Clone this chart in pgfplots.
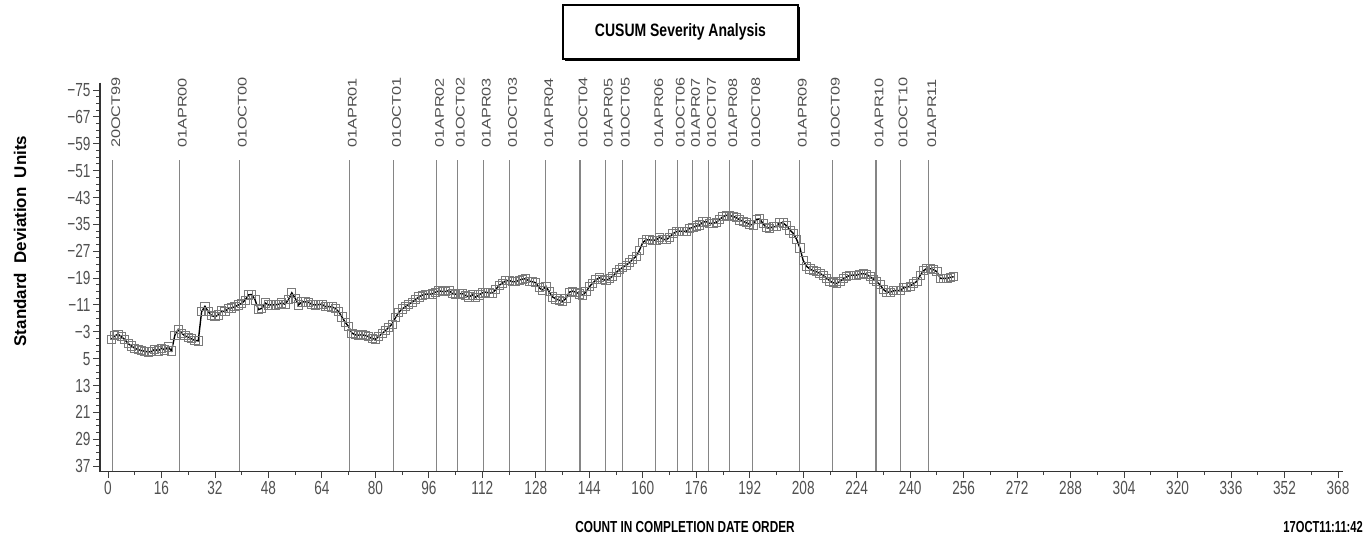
\documentclass[border=0pt]{standalone}
\usepackage{fontspec}
\setmainfont{Liberation Sans}
\usepackage{pgfplots}
\pgfplotsset{compat=1.18}
\usepackage{pgfplotstable}

\definecolor{ticktext}{HTML}{505050}
\definecolor{refgray}{HTML}{858585}
\definecolor{markgray}{HTML}{7A7A7A}

% cumulative sum, in standard deviation units, by completion order
\pgfplotstableread{
n v
1 -0.8
2 -1.8
3 -2.3
4 -1.5
5 -0.7
6 0.5
7 1.2
8 1.9
9 2.3
10 2.6
11 2.8
12 3.0
13 2.9
14 2.2
15 2.7
16 1.9
17 2.4
18 1.5
19 2.7
20 -2.0
21 -3.7
22 -2.6
23 -1.8
24 -1.4
25 -0.9
26 -0.4
27 -0.3
28 -9.0
29 -10.6
30 -9.0
31 -7.8
32 -7.5
33 -8.0
34 -9.2
35 -9.0
36 -10.0
37 -10.1
38 -10.5
39 -11.0
40 -11.5
41 -12.4
42 -14.0
43 -14.1
44 -12.5
45 -9.6
46 -10.0
47 -11.6
48 -11.0
49 -11.0
50 -11.0
51 -11.2
52 -11.6
53 -11.2
54 -12.6
55 -14.6
56 -13.0
57 -11.0
58 -11.9
59 -11.9
60 -11.8
61 -11.1
62 -11.0
63 -11.1
64 -11.2
65 -10.5
66 -10.5
67 -10.4
68 -10.0
69 -9.0
70 -7.4
71 -5.8
72 -4.5
73 -2.6
74 -2.1
75 -2.0
76 -2.1
77 -1.9
78 -1.5
79 -1.0
80 -0.8
81 -1.6
82 -2.5
83 -3.3
84 -4.3
85 -5.3
86 -7.2
87 -8.8
88 -9.8
89 -10.5
90 -11.2
91 -11.8
92 -12.6
93 -13.4
94 -13.9
95 -14.2
96 -14.2
97 -14.3
98 -14.8
99 -15.2
100 -15.0
101 -15.0
102 -15.3
103 -14.4
104 -14.2
105 -14.3
106 -14.4
107 -13.8
108 -13.4
109 -14.0
110 -13.3
111 -14.0
112 -14.6
113 -14.8
114 -14.6
115 -14.5
116 -15.6
117 -16.8
118 -17.5
119 -18.2
120 -18.3
121 -17.9
122 -17.9
123 -18.4
124 -18.7
125 -18.8
126 -18.1
127 -17.9
128 -17.6
129 -16.1
130 -15.4
131 -16.6
132 -14.9
133 -13.4
134 -12.8
135 -12.4
136 -12.1
137 -12.9
138 -14.8
139 -15.1
140 -14.8
141 -14.3
142 -13.9
143 -14.9
144 -16.4
145 -17.5
146 -18.5
147 -19.1
148 -18.6
149 -18.3
150 -18.8
151 -19.6
152 -20.6
153 -21.5
154 -22.2
155 -22.8
156 -23.6
157 -24.6
158 -25.5
159 -27.3
160 -29.6
161 -30.4
162 -30.4
163 -30.3
164 -30.3
165 -31.2
166 -30.6
167 -30.4
168 -31.2
169 -32.2
170 -32.8
171 -33.0
172 -32.9
173 -32.9
174 -33.8
175 -34.1
176 -34.5
177 -34.8
178 -35.7
179 -35.8
180 -35.3
181 -35.3
182 -35.6
183 -36.5
184 -37.3
185 -37.7
186 -37.6
187 -37.4
188 -37.0
189 -36.3
190 -35.9
191 -35.5
192 -35.0
193 -34.8
194 -36.5
195 -36.6
196 -35.2
197 -34.0
198 -33.9
199 -34.3
200 -34.3
201 -35.5
202 -35.4
203 -34.6
204 -33.3
205 -32.3
206 -30.6
207 -28.0
208 -24.2
209 -22.5
210 -21.7
211 -21.2
212 -20.9
213 -20.4
214 -19.8
215 -19.0
216 -18.1
217 -17.6
218 -17.4
219 -18.0
220 -18.8
221 -19.4
222 -19.8
223 -19.9
224 -19.9
225 -20.2
226 -20.3
227 -20.1
228 -19.4
229 -18.7
230 -17.9
231 -17.0
232 -15.6
233 -14.8
234 -14.8
235 -15.2
236 -15.3
237 -15.2
238 -16.1
239 -16.3
240 -16.6
241 -17.4
242 -18.0
243 -19.8
244 -21.2
245 -21.9
246 -21.8
247 -21.5
248 -20.9
249 -18.9
250 -18.9
251 -18.9
252 -19.2
253 -19.4
}\cusum

\tikzset{
  refline/.style={draw=refgray, line width=1.2bp},
  datelabel/.style={xshift=3bp, rotate=90, xscale=1.3, anchor=west, inner sep=0pt,
    text=ticktext, font=\fontsize{12.6}{12.6}\selectfont},
}

\begin{document}
\begin{tikzpicture}
\useasboundingbox (0bp,0bp) rectangle (1367bp,-537bp);

% title box with a drop shadow on the lower and right edges
\draw[line width=1.3bp] (563bp,-5bp) rectangle (798bp,-59bp);
\draw[line width=1.6bp] (565bp,-60bp) -- (799.3bp,-60bp) -- (799.3bp,-7bp);
\node[font=\bfseries\fontsize{18}{18}\selectfont, xscale=0.78] at (680.5bp,-32bp) {CUSUM Severity Analysis};

\begin{axis}[
  name=ax,
  scale only axis,
  width=1243bp, height=388.4bp,
  at={(100bp,-471.1bp)}, anchor=south west,
  xmin=-2.4, xmax=369.5,
  ymin=-77.2, ymax=38.5,
  y dir=reverse,
  axis line style={draw=none},
  clip=false,
  xtick={0,16,...,368},
  ytick={-75,-67,...,37},
  yticklabels={−75,−67,−59,−51,−43,−35,−27,−19,−11,−3,5,13,21,29,37},
  minor x tick num=1,
  minor y tick num=3,
  tick align=outside,
  xtick pos=bottom, ytick pos=left,
  major tick length=7bp, minor tick length=4bp,
  every tick/.style={black!75, line width=0.9bp},
  /pgf/number format/assume math mode=true,
  xticklabel style={font=\fontsize{19}{19}\selectfont, text=ticktext, xscale=0.72},
  yticklabel style={font=\fontsize{19}{19}\selectfont, text=ticktext, xscale=0.72},
]

\addplot[only marks, mark=square, mark size=4.1bp,
  mark options={draw=markgray, line width=0.9bp}] table[x=n, y=v] {\cusum};
\addplot[black, line width=1.4bp, mark=none] table[x=n, y=v] {\cusum};

% reference lines at the reporting dates
\addplot[refline] coordinates {(1.4,-54.1) (1.4,38.5)};
\addplot[refline] coordinates {(21.3,-54.1) (21.3,38.5)};
\addplot[refline] coordinates {(39.3,-54.1) (39.3,38.5)};
\addplot[refline] coordinates {(72.2,-54.1) (72.2,38.5)};
\addplot[refline] coordinates {(85.4,-54.1) (85.4,38.5)};
\addplot[refline] coordinates {(98.3,-54.1) (98.3,38.5)};
\addplot[refline] coordinates {(104.5,-54.1) (104.5,38.5)};
\addplot[refline] coordinates {(112.3,-54.1) (112.3,38.5)};
\addplot[refline] coordinates {(120.1,-54.1) (120.1,38.5)};
\addplot[refline] coordinates {(131.0,-54.1) (131.0,38.5)};
\addplot[refline] coordinates {(141.2,-54.1) (141.2,38.5)};
\addplot[refline] coordinates {(148.8,-54.1) (148.8,38.5)};
\addplot[refline] coordinates {(153.9,-54.1) (153.9,38.5)};
\addplot[refline] coordinates {(163.9,-54.1) (163.9,38.5)};
\addplot[refline] coordinates {(170.3,-54.1) (170.3,38.5)};
\addplot[refline] coordinates {(174.9,-54.1) (174.9,38.5)};
\addplot[refline] coordinates {(179.7,-54.1) (179.7,38.5)};
\addplot[refline] coordinates {(186.0,-54.1) (186.0,38.5)};
\addplot[refline] coordinates {(192.9,-54.1) (192.9,38.5)};
\addplot[refline] coordinates {(206.8,-54.1) (206.8,38.5)};
\addplot[refline] coordinates {(216.7,-54.1) (216.7,38.5)};
\addplot[refline] coordinates {(229.8,-54.1) (229.8,38.5)};
\addplot[refline] coordinates {(237.0,-54.1) (237.0,38.5)};
\addplot[refline] coordinates {(245.6,-54.1) (245.6,38.5)};

\node[datelabel] at (axis cs:1.4,-57.7) {20OCT99};
\node[datelabel] at (axis cs:21.3,-57.7) {01APR00};
\node[datelabel] at (axis cs:39.3,-57.7) {01OCT00};
\node[datelabel] at (axis cs:72.2,-57.7) {01APR01};
\node[datelabel] at (axis cs:85.4,-57.7) {01OCT01};
\node[datelabel] at (axis cs:98.3,-57.7) {01APR02};
\node[datelabel] at (axis cs:104.5,-57.7) {01OCT02};
\node[datelabel] at (axis cs:112.3,-57.7) {01APR03};
\node[datelabel] at (axis cs:120.1,-57.7) {01OCT03};
\node[datelabel] at (axis cs:131.0,-57.7) {01APR04};
\node[datelabel] at (axis cs:141.2,-57.7) {01OCT04};
\node[datelabel] at (axis cs:148.8,-57.7) {01APR05};
\node[datelabel] at (axis cs:153.9,-57.7) {01OCT05};
\node[datelabel] at (axis cs:163.9,-57.7) {01APR06};
\node[datelabel] at (axis cs:170.3,-57.7) {01OCT06};
\node[datelabel] at (axis cs:174.9,-57.7) {01APR07};
\node[datelabel] at (axis cs:179.7,-57.7) {01OCT07};
\node[datelabel] at (axis cs:186.0,-57.7) {01APR08};
\node[datelabel] at (axis cs:192.9,-57.7) {01OCT08};
\node[datelabel] at (axis cs:206.8,-57.7) {01APR09};
\node[datelabel] at (axis cs:216.7,-57.7) {01OCT09};
\node[datelabel] at (axis cs:229.8,-57.7) {01APR10};
\node[datelabel] at (axis cs:237.0,-57.7) {01OCT10};
\node[datelabel] at (axis cs:245.6,-57.7) {01APR11};
\end{axis}

% left and bottom axis lines
\draw[line width=1.1bp, black!80] (ax.north west) -- (ax.south west) -- (ax.south east);

\node[rotate=90, font=\bfseries\fontsize{17}{17}\selectfont] at (20bp,-241bp)
  {Standard\hspace{0.55em}Deviation\hspace{0.55em}Units};
\node[font=\bfseries\fontsize{16}{16}\selectfont, xscale=0.74] at (685bp,-527bp)
  {COUNT IN COMPLETION DATE ORDER};
\node[font=\bfseries\fontsize{16}{16}\selectfont, xscale=0.7, anchor=east, inner sep=0pt] at (1363bp,-527bp)
  {17OCT11:11:42};
\end{tikzpicture}
\end{document}
